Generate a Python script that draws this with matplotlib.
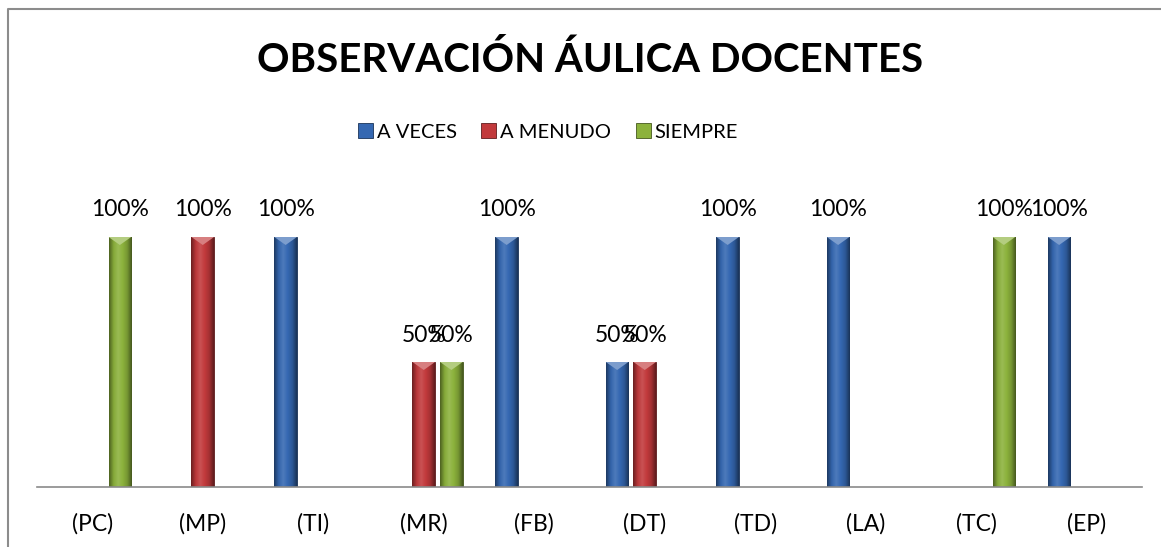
import numpy as np
import matplotlib.pyplot as plt
from matplotlib.colors import LinearSegmentedColormap, to_rgb
from matplotlib.patches import Polygon, Patch
from matplotlib.lines import Line2D

categories = ["(PC)", "(MP)", "(TI)", "(MR)", "(FB)", "(DT)", "(TD)", "(LA)", "(TC)", "(EP)"]
a_veces = [0, 0, 1, 0, 1, 0.5, 1, 1, 0, 1]
a_menudo = [0, 1, 0, 0.5, 0, 0.5, 0, 0, 0, 0]
siempre = [1, 0, 0, 0.5, 0, 0, 0, 0, 1, 0]
series_names = ["A VECES", "A MENUDO", "SIEMPRE"]
series_colors = ["#3568B2", "#C23A3C", "#8CB23C"]

plt.rcParams["font.family"] = ["Lato", "DejaVu Sans"]


def shade(color, f):
    c = np.array(to_rgb(color))
    if f < 1:
        return tuple(c * f)
    return tuple(c + (1 - c) * (f - 1))


W, H = 1161, 547
fig = plt.figure(figsize=(W / 100, H / 100), dpi=100)
ax = fig.add_axes([37 / W, 60 / H, (1142 - 37) / W, 300 / H])

x = np.arange(len(categories))
slot = 0.25
bar_w = 0.204
ax.set_xlim(-0.5, len(categories) - 0.5)
ax.set_ylim(0, 1.2)

# pixels per data unit on y, for the bevel tip
px_per_unit = ax.transData.transform((0, 1))[1] - ax.transData.transform((0, 0))[1]
tip = 8 / px_per_unit

for k, (vals, col) in enumerate(zip([a_veces, a_menudo, siempre], series_colors)):
    cmap = LinearSegmentedColormap.from_list(
        "bev", [shade(col, 0.55), shade(col, 0.95), shade(col, 1.12), col, shade(col, 0.85), shade(col, 0.5)])
    for xi, v in zip(x, vals):
        if v == 0:
            continue
        xc = xi + (k - 1) * slot
        bar = ax.bar(xc, v, width=bar_w, color=col, edgecolor=shade(col, 0.45),
                     linewidth=0.6, zorder=2)[0]
        x0, x1 = xc - bar_w / 2, xc + bar_w / 2
        im = ax.imshow(np.linspace(0, 1, 64).reshape(1, -1), cmap=cmap, aspect="auto",
                       extent=[x0, x1, 0, v], zorder=2.5)
        im.set_clip_path(bar)
        tri = Polygon([(x0, v), (x1, v), (xc, v - tip)], closed=True,
                      facecolor=shade(col, 1.35), edgecolor="none", zorder=3)
        ax.add_patch(tri)
        ax.annotate(f"{v:.0%}", (xc, v), xytext=(0, 27), textcoords="offset pixels",
                    ha="center", va="center", fontsize=16.5, color="black")

ax.set_xlim(-0.5, len(categories) - 0.5)
ax.set_ylim(0, 1.2)
ax.set_xticks(x)
ax.set_xticklabels(categories, fontsize=16.5)
ax.tick_params(axis="x", length=0, pad=19)
ax.set_yticks([])
for s in ["top", "left", "right"]:
    ax.spines[s].set_visible(False)
ax.spines["bottom"].set_color("#8a8a8a")
ax.spines["bottom"].set_linewidth(1.2)
ax.patch.set_alpha(0)

fig.text(590 / W, 1 - 60 / H, "OBSERVACIÓN ÁULICA DOCENTES", ha="center", va="center",
         fontsize=29, fontweight="bold")

handles = [Patch(facecolor=c, edgecolor=shade(c, 0.5), linewidth=0.6) for c in series_colors]
fig.legend(handles, series_names, loc="center", bbox_to_anchor=(548 / W, 1 - 132 / H),
           ncol=3, frameon=False, fontsize=14.5, handlelength=0.75, handleheight=0.75,
           handletextpad=0.2, columnspacing=1.2)

# chart border
fig.add_artist(Line2D([8 / W, 8 / W, 1], [0, 1 - 9 / H, 1 - 9 / H], color="#8c8c8c",
                      linewidth=1.5, transform=fig.transFigure))

fig.savefig("out.png", dpi=100)
